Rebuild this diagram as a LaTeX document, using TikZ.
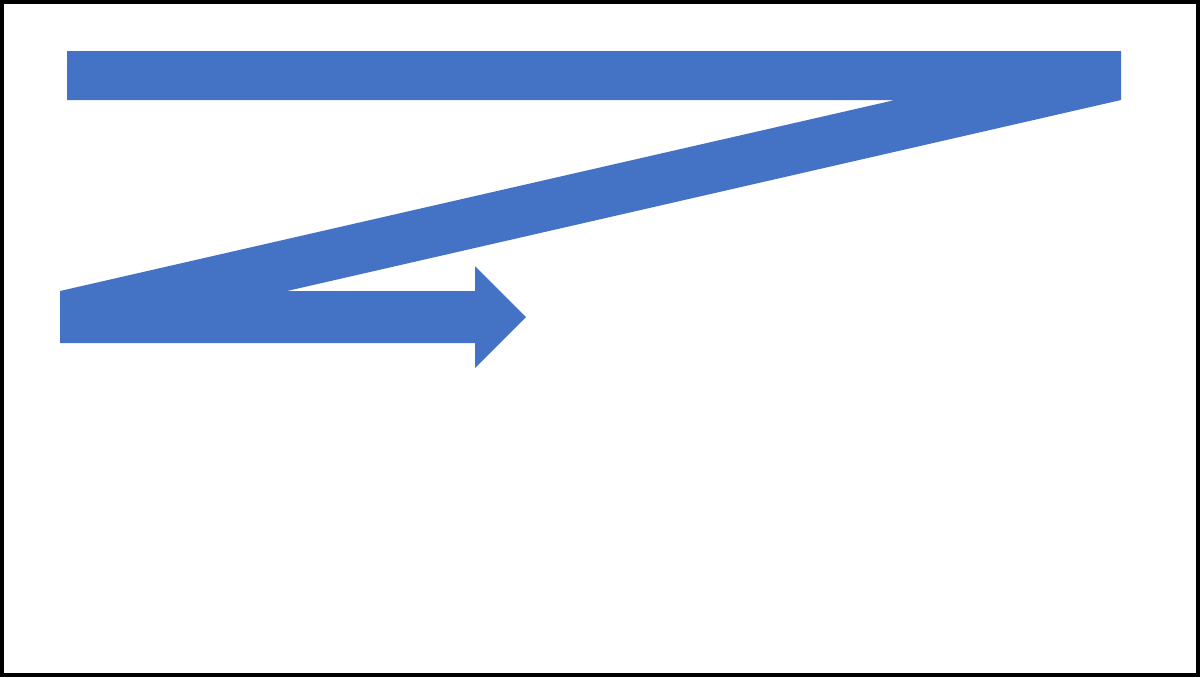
\documentclass[tikz,border=0pt]{standalone}
\usepackage{tikz}
\usetikzlibrary{calc}
\definecolor{zblue}{HTML}{4472C4}

\begin{document}
\begin{tikzpicture}[% styles used in image code
     x = 0.02cm, y = -0.02cm,
 frame/.style = {draw=black, line width=0.08cm},
zarrow/.style = {fill=zblue, draw=none}
                    ]
	% frame and bounding box
	\useasboundingbox (0,0) rectangle (1200,677);
	\draw[frame] (2,2) rectangle (1198,675);

	% corners of the Z shaped arrow
	\coordinate (tl) at (67,51);
	\coordinate (tr) at (1121,51);
	\coordinate (br) at (1121,100);
	\coordinate (d1) at (287,291);
	\coordinate (s1) at (475,291);
	\coordinate (h1) at (475,266);
	\coordinate (tip) at (526,317);
	\coordinate (h2) at (475,368);
	\coordinate (s2) at (475,343);
	\coordinate (bl) at (60,343);
	\coordinate (ul) at (60,291);
	\coordinate (d2) at (895,100);
	\coordinate (il) at (67,100);

	\fill[zarrow] (tl) -- (tr) -- (br) -- (d1) -- (s1) -- (h1) -- (tip)
	      -- (h2) -- (s2) -- (bl) -- (ul) -- (d2) -- (il) -- cycle;
\end{tikzpicture}
\end{document}
